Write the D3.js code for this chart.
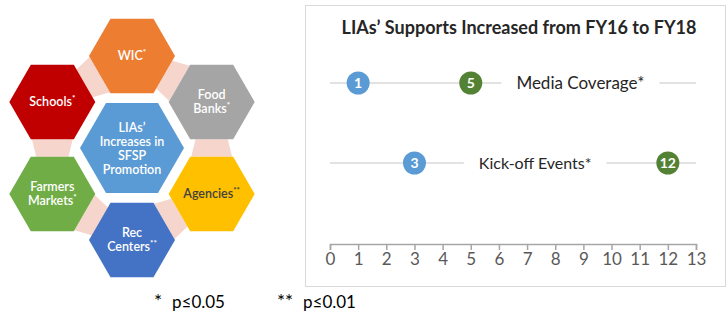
<!DOCTYPE html>
<html>
<head>
<meta charset="utf-8">
<script src="https://cdn.jsdelivr.net/npm/d3@7"></script>
<style>
  body { margin: 0; background: #fff; }
  svg { display: block; font-family: Lato, "Open Sans", sans-serif; }
</style>
</head>
<body>
<svg id="chart" width="727" height="312"></svg>
<script>
// dumbbell data
var categories = ['Media Coverage*', 'Kick-off Events*']
var fy16 = [1, 3]
var fy18 = [5, 12]
var tickValues = d3.range(0, 14)
var title = 'LIAs\u2019 Supports Increased from FY16 to FY18'

// hexagon ring labels (clockwise from top), marks for significance
var hexLabels = [['WIC'], ['Food', 'Banks'], ['Agencies'], ['Rec', 'Centers'], ['Farmers', 'Markets'], ['Schools']]
var hexSig = ['*', '*', '**', '**', '*', '*']
var centerLabel = ['LIAs\u2019', 'Increases in', 'SFSP', 'Promotion']
var footStars = ['*', '**']
var footValues = ['p\u22640.05', 'p\u22640.01']

var hexColors = ['#ED7D31', '#A5A5A5', '#FFC000', '#4472C4', '#70AD47', '#C00000']
var hexText = ['#fff', '#fff', '#404040', '#fff', '#fff', '#fff']

var svg = d3.select('#chart')

// ---------- left: hexagon diagram ----------
var cx = 132, cy = 148
var R = 43
var ringAngles = [-90, -30, 30, 90, 150, 210] // degrees, direction of each outer hex
var ringDist = 92

function hexPoints(x, y, r) {
  return d3.range(6).map(function(i) {
    var a = Math.PI / 3 * i
    return [x + r * Math.cos(a), y + r * Math.sin(a)]
  })
}

var centers = ringAngles.map(function(a) {
  var rad = a * Math.PI / 180
  return [cx + ringDist * Math.cos(rad), cy + ringDist * Math.sin(rad)]
})

// connectors between neighbouring hexes
var left = svg.append('g')
centers.forEach(function(c, i) {
  var n = centers[(i + 1) % 6]
  var dir = Math.atan2(n[1] - c[1], n[0] - c[0])
  function edge(p, d) {
    var a1 = d - Math.PI / 6, a2 = d + Math.PI / 6
    return [[p[0] + R * Math.cos(a1), p[1] + R * Math.sin(a1)], [p[0] + R * Math.cos(a2), p[1] + R * Math.sin(a2)]]
  }
  var e1 = edge(c, dir), e2 = edge(n, dir + Math.PI)
  function shrink(e, f) {
    var mx = (e[0][0] + e[1][0]) / 2, my = (e[0][1] + e[1][1]) / 2
    return e.map(function(p) { return [mx + (p[0] - mx) * f, my + (p[1] - my) * f] })
  }
  var a = shrink(e1, 0.75), b = shrink(e2, 0.95)
  left.append('polygon')
    .attr('points', [a[0], a[1], b[0], b[1]].map(function(p) { return p.join(',') }).join(' '))
    .attr('fill', '#F6D5CD')
})

centers.forEach(function(c, i) {
  left.append('polygon')
    .attr('points', hexPoints(c[0], c[1], R).map(function(p) { return p.join(',') }).join(' '))
    .attr('fill', hexColors[i])
  var lines = hexLabels[i]
  var t = left.append('text')
    .attr('text-anchor', 'middle')
    .attr('fill', hexText[i])
    .attr('font-size', 12.5)
    .attr('font-weight', 600)
  lines.forEach(function(l, j) {
    t.append('tspan')
      .attr('x', c[0])
      .attr('y', c[1] + 4 + (j - (lines.length - 1) / 2) * 14)
      .text(l)
    if (j === lines.length - 1) {
      t.append('tspan').attr('dy', -5).attr('font-size', 8).attr('font-weight', 'bold').text(hexSig[i])
    }
  })
})

left.append('polygon')
  .attr('points', hexPoints(cx, cy, 52).map(function(p) { return p.join(',') }).join(' '))
  .attr('fill', '#5B9BD5')
centerLabel.forEach(function(l, j) {
  left.append('text')
    .attr('x', cx)
    .attr('y', cy + 5 + (j - 1.5) * 14)
    .attr('text-anchor', 'middle')
    .attr('fill', '#fff')
    .attr('font-size', 12.5)
    .attr('font-weight', 600)
    .text(l)
})

// footnotes
var foot = svg.selectAll('.foot')
  .data(footStars)
  .enter().append('g')
  .attr('class', 'foot')
  .attr('transform', function(d, i) { return 'translate(' + (i ? 277 : 154) + ',308)' })
foot.append('text')
  .attr('font-size', 19)
  .attr('fill', '#000')
  .text(function(d) { return d })
foot.append('text')
  .attr('x', function(d, i) { return i ? 26 : 18 })
  .attr('font-size', 17)
  .attr('fill', '#000')
  .text(function(d, i) { return footValues[i] })

// ---------- right: dumbbell panel ----------
svg.append('rect')
  .attr('x', 305.5).attr('y', 5.5)
  .attr('width', 420).attr('height', 281)
  .attr('fill', '#fff')
  .attr('stroke', '#D9D9D9')

svg.append('text')
  .attr('x', 519).attr('y', 34)
  .attr('text-anchor', 'middle')
  .attr('font-size', 18)
  .attr('font-weight', 'bold')
  .attr('fill', '#262626')
  .text(title)

var xScale = d3.scaleLinear()
  .domain([0, 13])
  .range([330, 696])

var yScale = d3.scalePoint()
  .domain(categories)
  .range([83, 163])

var xAxis = d3.axisBottom(xScale)
  .tickValues(tickValues)
  .tickSizeOuter(0)
  .tickSize(6)
  .tickFormat(d3.format('d'))

var axisG = svg.append('g')
  .attr('transform', 'translate(0,244)')
  .call(xAxis)
axisG.selectAll('path, line').attr('stroke', '#A6A6A6').attr('stroke-width', 1.5)
axisG.selectAll('text').attr('font-size', 17).attr('fill', '#595959').attr('font-family', 'Lato, sans-serif')

var rows = svg.selectAll('.row')
  .data(categories)
  .enter().append('g')
  .attr('class', 'row')

rows.each(function(cat, i) {
  var g = d3.select(this)
  var y = yScale(cat)
  var mid = xScale((Math.max(fy16[i], fy18[i]) + 13) / 2) - 3
  if (i === 1) mid = xScale((fy16[i] + fy18[i]) / 2) - 6
  var label = g.append('text')
    .attr('x', mid).attr('y', y + 6)
    .attr('text-anchor', 'middle')
    .attr('font-size', i ? 16 : 17)
    .attr('fill', '#262626')
    .text(cat)
  var w = label.node().getComputedTextLength()
  var pad = 15
  var segs = [[xScale(0), mid - w / 2 - pad], [mid + w / 2 + pad, xScale(13)]]
  segs.forEach(function(s) {
    g.insert('line', 'text')
      .attr('x1', s[0]).attr('x2', s[1])
      .attr('y1', y).attr('y2', y)
      .attr('stroke', '#D9D9D9').attr('stroke-width', 1.5)
  })
  var pts = [{ v: fy16[i], c: '#5B9BD5' }, { v: fy18[i], c: '#548235' }]
  pts.forEach(function(p) {
    g.append('circle')
      .attr('cx', xScale(p.v)).attr('cy', y).attr('r', 11.5)
      .attr('fill', p.c)
    g.append('text')
      .attr('x', xScale(p.v)).attr('y', y + 5)
      .attr('text-anchor', 'middle')
      .attr('font-size', 14)
      .attr('font-weight', 'bold')
      .attr('fill', '#fff')
      .text(p.v)
  })
})
</script>
</body>
</html>
